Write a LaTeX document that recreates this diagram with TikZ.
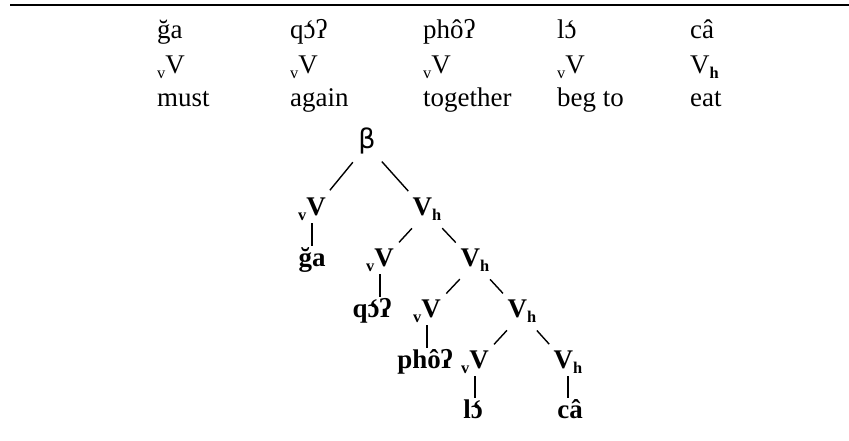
\documentclass[tikz,border=0pt]{standalone}
\usepackage{fontspec}
\setmainfont{Liberation Serif}
\newfontfamily\greekfont{DejaVu Sans}
\newcommand{\lv}{\raisebox{-0.4ex}{\fontsize{14}{14}\selectfont v}V}
\newcommand{\Vh}{V\raisebox{-0.4ex}{\fontsize{14}{14}\selectfont\bfseries h}}
\newcommand{\og}{\ooalign{ɔ\cr\hidewidth\char"60\hidewidth\cr}}

\begin{document}
\begin{tikzpicture}[
                x = 0.03cm, y = -0.03cm,
                gloss/.style = {
                    anchor      = west,
                    inner sep   = 0pt,
                    text height = 1.45ex,
                    text depth  = 0pt,
                    font        = \fontsize{23}{28}\selectfont
                },
                treenode/.style = {
                    inner sep   = 0pt,
                    text height = 1.45ex,
                    text depth  = 0pt,
                    font        = \fontsize{23}{28}\selectfont\bfseries
                },
                branch/.style = {
                    line width = 1.2pt,
                    shorten <= 19pt,
                    shorten >= 24pt
                },
                stem/.style = {
                    line width = 1.4pt,
                    shorten <= 6pt,
                    shorten >= 11pt
                }
            ]

                \useasboundingbox (0, 0) rectangle (849, 440);
                \draw[line width = 1.8pt] (10, 5) -- (849, 5);

                \node[gloss] (w1) at (157, 35) {ğa};
                \node[gloss] (w2) at (290, 35) {q\og ʔ};
                \node[gloss] (w3) at (423, 35) {phôʔ};
                \node[gloss] (w4) at (557, 35) {l\og};
                \node[gloss] (w5) at (690, 35) {câ};

                \node[gloss] (c1) at (157, 70) {\lv};
                \node[gloss] (c2) at (290, 70) {\lv};
                \node[gloss] (c3) at (423, 70) {\lv};
                \node[gloss] (c4) at (557, 70) {\lv};
                \node[gloss] (c5) at (690, 70) {\Vh};

                \node[gloss] (g1) at (157, 103) {must};
                \node[gloss] (g2) at (290, 103) {again};
                \node[gloss] (g3) at (423, 103) {together};
                \node[gloss] (g4) at (557, 103) {beg to};
                \node[gloss] (g5) at (690, 103) {eat};

                \node[treenode] (beta) at (367, 145) {\greekfont\mdseries β};
                \node[treenode] (vA) at (312, 212) {\lv};
                \node[treenode] (hA) at (427, 212) {\Vh};
                \node[treenode] (ga) at (312, 263) {ğa};
                \node[treenode] (vB) at (380, 263) {\lv};
                \node[treenode] (hB) at (475, 263) {\Vh};
                \node[treenode] (qo) at (372, 314) {q\og ʔ};
                \node[treenode] (vC) at (427, 314) {\lv};
                \node[treenode] (hC) at (522, 314) {\Vh};
                \node[treenode] (pho) at (425, 365) {phôʔ};
                \node[treenode] (vD) at (475, 365) {\lv};
                \node[treenode] (hD) at (568, 365) {\Vh};
                \node[treenode] (lo) at (473, 415) {l\og};
                \node[treenode] (ca) at (570, 415) {câ};

                \draw[branch] (beta.center) -- (vA.center);
                \draw[branch] (beta.center) -- (hA.center);
                \draw[branch] (hA.center) -- (vB.center);
                \draw[branch] (hA.center) -- (hB.center);
                \draw[branch] (hB.center) -- (vC.center);
                \draw[branch] (hB.center) -- (hC.center);
                \draw[branch] (hC.center) -- (vD.center);
                \draw[branch] (hC.center) -- (hD.center);
                \draw[stem] (vA.south) -- (vA.south |- ga.north);
                \draw[stem] (vB.south) -- (vB.south |- qo.north);
                \draw[stem] (vC.south) -- (vC.south |- pho.north);
                \draw[stem] (vD.south) -- (vD.south |- lo.north);
                \draw[stem] (hD.south) -- (hD.south |- ca.north);
            \end{tikzpicture}
\end{document}
